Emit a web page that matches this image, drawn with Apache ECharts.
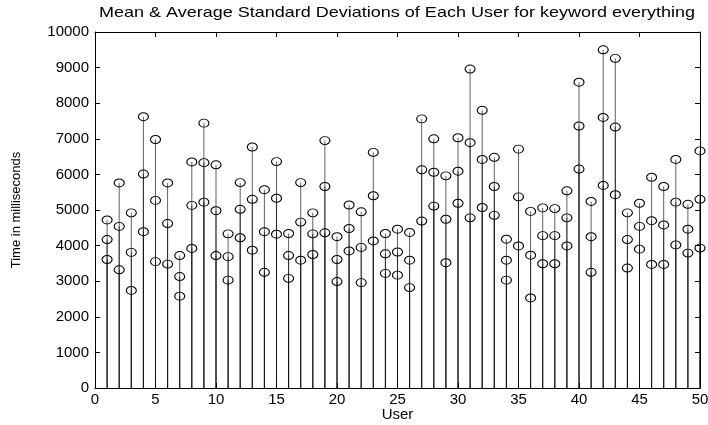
<!DOCTYPE html>
<html>
<head>
<meta charset="utf-8">
<script src="https://cdn.jsdelivr.net/npm/echarts@6/dist/echarts.min.js"></script>
<style>
  html, body { margin: 0; padding: 0; background: #fff; }
  #chart { width: 708px; height: 425px; }
</style>
</head>
<body>
<div id="chart"></div>
<script>
// user index 1..50, three stems per user: mean + sd, mean, mean - sd
const users = Array.from({ length: 50 }, (_, i) => i + 1)
const upper = [4720, 5760, 4920, 7620, 6980, 5760, 3720, 6350, 7440, 6270,
  4330, 5770, 6770, 5570, 6360, 4340, 5770, 4920, 6950, 4250,
  5140, 4950, 6620, 4340, 4460, 4370, 7560, 7000, 5960, 7030,
  8960, 7800, 6480, 4180, 6710, 4960, 5060, 5040, 5540, 8590,
  5240, 9500, 9260, 4920, 5190, 5920, 5660, 6420, 5160, 6660]
const mean = [4170, 4540, 3810, 6010, 5270, 4620, 3130, 5130, 6330, 4980,
  3690, 5020, 5300, 4390, 5330, 3720, 4660, 4330, 5660, 3610,
  4480, 3950, 5400, 3770, 3820, 3590, 6130, 6060, 4740, 6090,
  6890, 6420, 5660, 3590, 5370, 3730, 4280, 4280, 4780, 7360,
  4250, 7600, 7330, 4170, 4540, 4700, 4580, 5220, 4460, 5300]
const lower = [3610, 3320, 2740, 4390, 3550, 3480, 2580, 3920, 5220, 3720,
  3030, 4220, 3870, 3250, 4320, 3080, 3590, 3750, 4360, 2990,
  3850, 2960, 4130, 3220, 3170, 2820, 4690, 5110, 3520, 5190,
  4780, 5070, 4850, 3030, 3990, 2530, 3490, 3490, 3990, 6150,
  3250, 5690, 5430, 3370, 3900, 3470, 3470, 4020, 3790, 3930]

const FONT = '"Liberation Sans", Arial, sans-serif'

const pairs = arr => users.map((u, i) => [u, arr[i]])

// stem from the baseline up to the value, drawn with the axis scales
function stem(params, api) {
  const p0 = api.coord([api.value(0), 0])
  const p1 = api.coord([api.value(0), api.value(1)])
  return {
    type: 'line',
    shape: { x1: p0[0], y1: p0[1], x2: p1[0], y2: p1[1] },
    style: { stroke: 'rgba(0,0,0,0.62)', lineWidth: 1 }
  }
}

const stemSeries = arr => ({
  type: 'custom',
  renderItem: stem,
  data: pairs(arr),
  silent: true,
  clip: true,
  z: 1
})

const markSeries = arr => ({
  type: 'scatter',
  data: pairs(arr),
  symbol: 'circle',
  symbolSize: [10, 8],
  itemStyle: { color: 'rgba(0,0,0,0)', borderColor: '#000', borderWidth: 1, opacity: 1 },
  silent: true,
  z: 2
})

const tick = () => ({ show: true, inside: true, length: 5, lineStyle: { color: '#000', width: 1 } })
const line = () => ({ show: true, onZero: false, lineStyle: { color: '#000', width: 1 } })
const label = () => ({ color: '#000', fontFamily: FONT, fontSize: 15 })

const chart = echarts.init(document.getElementById('chart'))
chart.setOption({
  animation: false,
  backgroundColor: '#fff',
  graphic: [{
    type: 'text',
    x: 397,
    y: 13,
    scaleX: 1.2,
    style: {
      text: 'Mean & Average Standard Deviations of Each User for keyword everything',
      fill: '#000',
      font: '15px ' + FONT,
      align: 'center',
      verticalAlign: 'middle'
    }
  }],
  grid: { left: 95, right: 8, top: 32, bottom: 37, outerBoundsMode: 'none', containLabel: false },
  xAxis: [{
    type: 'value', min: 0, max: 50, interval: 5,
    axisLine: line(), axisTick: tick(), splitLine: { show: false },
    axisLabel: Object.assign({ margin: 4 }, label()),
    name: 'User', nameLocation: 'middle', nameGap: 19, nameMoveOverlap: false,
    nameTextStyle: { color: '#000', fontFamily: FONT, fontSize: 15 }
  }, {
    type: 'value', min: 0, max: 50, interval: 5, position: 'top',
    axisLine: line(), axisTick: tick(), axisLabel: { show: false }, splitLine: { show: false }
  }],
  yAxis: [{
    type: 'value', min: 0, max: 10000, interval: 1000,
    axisLine: line(), axisTick: tick(), splitLine: { show: false },
    axisLabel: Object.assign({ margin: 6, formatter: v => String(v) }, label()),
    name: 'Time in milliseconds', nameLocation: 'middle', nameGap: 72, nameMoveOverlap: false,
    nameTextStyle: { color: '#000', fontFamily: FONT, fontSize: 13 }
  }, {
    type: 'value', min: 0, max: 10000, interval: 1000, position: 'right',
    axisLine: line(), axisTick: tick(), axisLabel: { show: false }, splitLine: { show: false }
  }],
  series: [
    stemSeries(upper), stemSeries(mean), stemSeries(lower),
    markSeries(upper), markSeries(mean), markSeries(lower)
  ]
})
</script>
</body>
</html>
